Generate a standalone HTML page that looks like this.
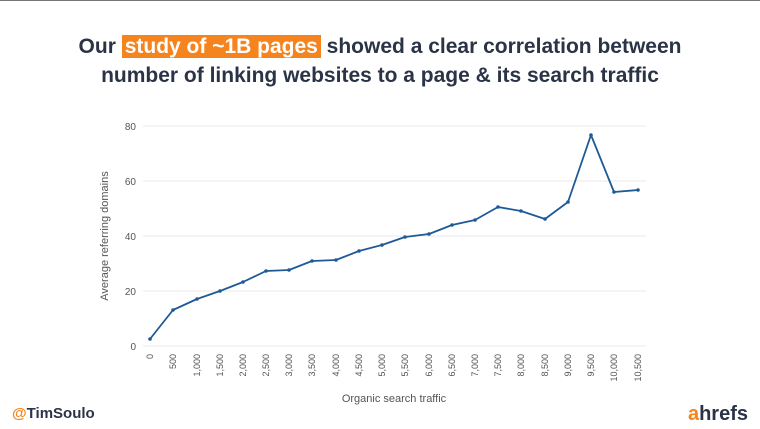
<!DOCTYPE html>
<html><head><style>
body{margin:0;width:760px;height:429px;background:#fff;overflow:hidden;position:relative;font-family:"Liberation Sans",sans-serif}
.t{position:absolute;left:0;width:760px;text-align:center;color:#2b3447;font-weight:bold;font-size:21px;line-height:30px}
.h{background:#f5841f;color:#fff;padding:0 3px}
</style></head><body>
<div style="position:absolute;left:0;top:0;width:760px;height:1px;background:#777"></div>
<div class="t" style="top:32px">Our <span class="h">study of ~1B pages</span> showed a clear correlation between</div>
<div class="t" style="top:61px">number of linking websites to a page &amp; its search traffic</div>
<svg width="760" height="429" style="position:absolute;left:0;top:0" font-family="Liberation Sans, sans-serif">
<g stroke="#e8e8e8" stroke-width="1">
<line x1="143" x2="646" y1="126" y2="126"/><line x1="143" x2="646" y1="181" y2="181"/>
<line x1="143" x2="646" y1="236" y2="236"/><line x1="143" x2="646" y1="291" y2="291"/>
<line x1="143" x2="646" y1="346" y2="346"/>
</g>
<g fill="#555" font-size="10" text-anchor="end">
<text x="136" y="130">80</text><text x="136" y="185">60</text><text x="136" y="240">40</text><text x="136" y="295">20</text><text x="136" y="350">0</text>
</g>
<text transform="translate(108,236) rotate(-90)" fill="#555" font-size="11" text-anchor="middle">Average referring domains</text>
<g fill="#555" font-size="9" text-anchor="end" id="xl"></g>
<text x="394" y="402" fill="#555" font-size="11" text-anchor="middle">Organic search traffic</text>
<polyline fill="none" stroke="#1f5a96" stroke-width="1.8" stroke-linejoin="round" points="150,339 173,310 197,299 220,291 243,282 266,271 289,270 312,261 336,260 359,251 382,245 405,237 429,234 452,225 475,220 498,207 521,211 545,219 568,202 591,135 614,192 638,190"/>
<g fill="#1f5a96" id="pts"></g>
<text x="12" y="418" font-size="15" font-weight="bold" fill="#2b3447"><tspan fill="#f5841f">@</tspan>TimSoulo</text>
<text x="748" y="420" font-size="20" font-weight="bold" fill="#2b3447" text-anchor="end"><tspan fill="#f5841f">a</tspan>hrefs</text>
</svg>
<script>
var labs=["0","500","1,000","1,500","2,000","2,500","3,000","3,500","4,000","4,500","5,000","5,500","6,000","6,500","7,000","7,500","8,000","8,500","9,000","9,500","10,000","10,500"];
var xs=[150,173,197,220,243,266,289,312,336,359,382,405,429,452,475,498,521,545,568,591,614,638];
var g=document.getElementById('xl'),s='';
xs.forEach(function(x,i){s+='<text transform="translate('+(x+3)+',354) rotate(-90)">'+labs[i]+'</text>';});
g.innerHTML=s;
var pts=document.querySelector('polyline').getAttribute('points').split(' ');s='';
pts.forEach(function(p){var a=p.split(',');s+='<circle cx="'+a[0]+'" cy="'+a[1]+'" r="1.8"/>';});
document.getElementById('pts').innerHTML=s;
</script>
</body></html>
